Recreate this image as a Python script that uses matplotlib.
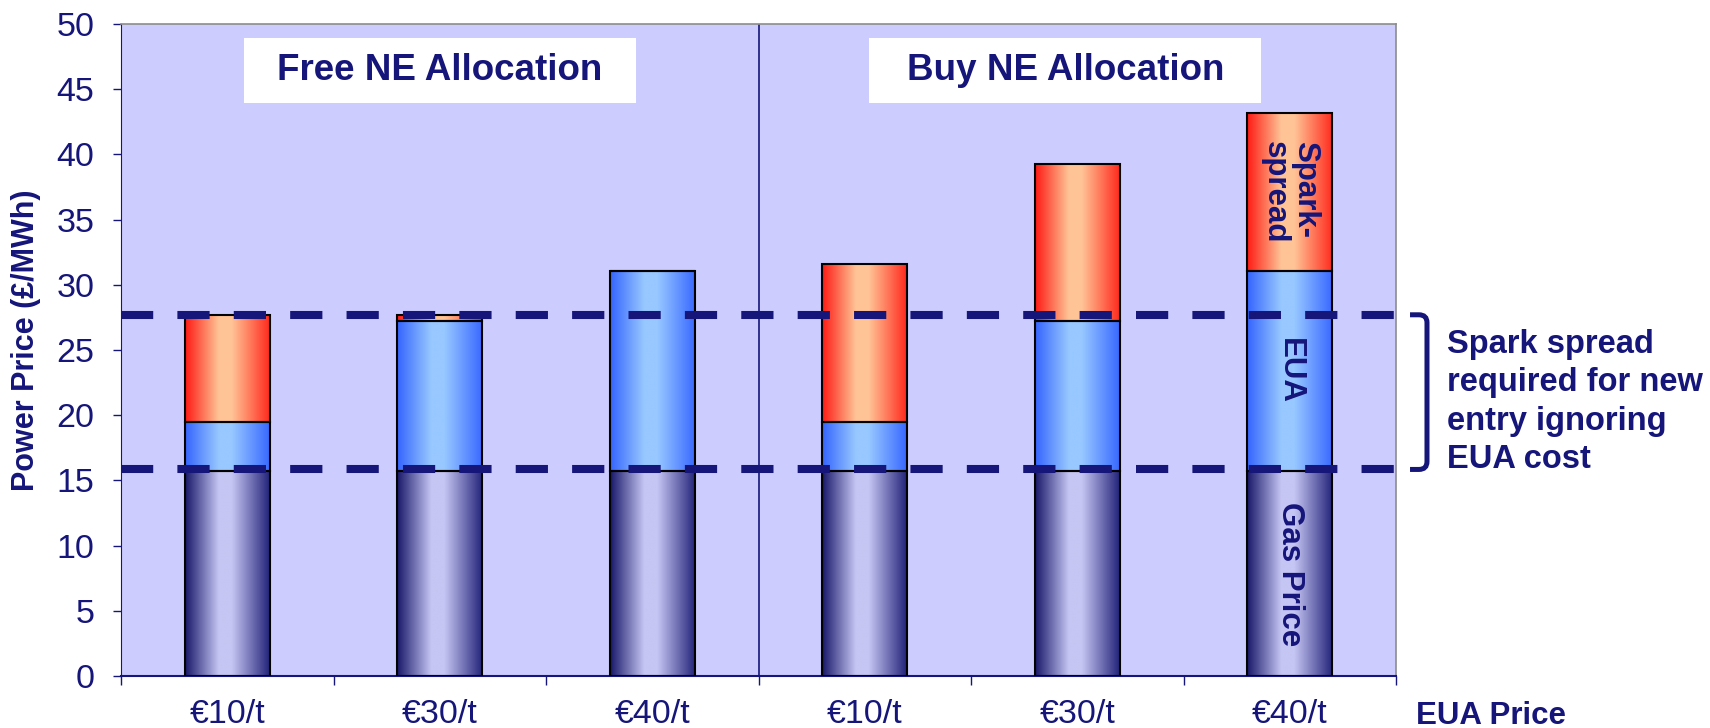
"""
Power price build-up: free vs. purchased new entrant (NE) allocation.

Stacked bars (gas, EUA, spark spread) with cylinder-style gradient fills.
"""
import matplotlib
matplotlib.use('Agg')
import matplotlib.pyplot as plt
import numpy as np
from matplotlib.colors import LinearSegmentedColormap
from matplotlib.patches import Rectangle, PathPatch
from matplotlib.path import Path
from matplotlib.transforms import blended_transform_factory

# --- data -------------------------------------------------------------
eua_labels = ['€10/t', '€30/t', '€40/t', '€10/t', '€30/t', '€40/t']
gas_price = [15.7, 15.7, 15.7, 15.7, 15.7, 15.7]
eua_cost = [3.8, 11.55, 15.35, 3.8, 11.55, 15.35]
spark_spread = [8.15, 0.43, 0.0, 12.1, 12.0, 12.1]
group_titles = ['Free NE Allocation', 'Buy NE Allocation']
ref_levels = [15.84, 27.7]  # gas price / new entry price (dashed lines)

NAVY = '#15157a'
BACKGROUND = '#ccccff'

plt.rcParams['font.family'] = ['Liberation Sans', 'DejaVu Sans']


def gradient_cmap(edge, mid, edge_right=None):
    """Horizontal 'cylinder' shading: dark edges, light band left of centre."""
    edge_right = edge_right or edge
    return LinearSegmentedColormap.from_list(
        '', [(0.0, edge), (0.40, mid), (0.55, mid), (1.0, edge_right)])


gas_cmap = gradient_cmap('#17176a', '#c6c6f4', '#23237a')
eua_cmap = gradient_cmap('#3464ff', '#98c8ff', '#3868ff')
spark_cmap = gradient_cmap('#ff1a14', '#ffc496', '#ff2a1e')
grad = np.linspace(0, 1, 256).reshape(1, -1)

fig = plt.figure(figsize=(17.1, 7.28), dpi=100)
ax = fig.add_axes([121 / 1710, 52 / 728, 1275 / 1710, 652 / 728])
ax.set_facecolor(BACKGROUND)

x = np.arange(len(eua_labels))
bottoms = np.zeros(len(x))
segments = [(gas_price, gas_cmap), (eua_cost, eua_cmap), (spark_spread, spark_cmap)]
for values, cmap in segments:
    bars = ax.bar(x, values, width=0.4, bottom=bottoms, facecolor='none',
                  edgecolor='black', linewidth=1.5, zorder=3)
    for bar in bars:
        if bar.get_height() <= 0:
            continue
        x0, y0 = bar.get_x(), bar.get_y()
        ax.imshow(grad, extent=[x0, x0 + bar.get_width(), y0, y0 + bar.get_height()],
                  cmap=cmap, aspect='auto', interpolation='bilinear', zorder=2)
    bottoms += np.array(values)

ax.set_xlim(-0.5, len(x) - 0.5)
ax.set_ylim(0, 50)

# dashed reference lines
for level in ref_levels:
    ax.axhline(level, color=NAVY, linewidth=5.8, linestyle=(0, (4.0, 3.0)),
               zorder=4)

# divider between the two allocation cases
ax.axvline(len(x) / 2 - 0.5, color=NAVY, linewidth=1.2, zorder=1)

# axes styling
ax.spines['left'].set_color(NAVY)
ax.spines['bottom'].set_color(NAVY)
ax.spines['bottom'].set_linewidth(1.5)
for side in ['top', 'right']:
    ax.spines[side].set_color('#8c8c8c')
    ax.spines[side].set_linewidth(1.2)

ax.set_yticks(range(0, 51, 5))
ax.set_xticks(x)
ax.set_xticklabels(eua_labels)
ax.set_xticks(np.arange(-0.5, len(x), 1), minor=True)
ax.tick_params(axis='x', which='major', length=0, pad=16.5,
               labelsize=24.5, labelcolor=NAVY)
ax.tick_params(axis='x', which='minor', length=6.5, width=1, color=NAVY)
ax.tick_params(axis='y', length=5.8, width=1, color=NAVY, pad=13.5,
               labelsize=24.5, labelcolor=NAVY)

ax.set_ylabel('Power Price (£/MWh)', fontsize=22, fontweight='bold', color=NAVY)
ax.yaxis.set_label_coords(-0.063, 0.515)

# group title boxes
for i, title in enumerate(group_titles):
    left = 0.0965 + i * 0.4905
    ax.add_patch(Rectangle((left, 0.879), 0.3075, 0.0995, transform=ax.transAxes,
                           facecolor='white', edgecolor='none', zorder=5))
    ax.text(left + 0.3075 / 2, 0.9287, title, transform=ax.transAxes,
            ha='center', va='center', fontsize=26.5, fontweight='bold',
            color=NAVY, zorder=6)

# segment labels on the last bar
label_kw = dict(rotation=-90, ha='center', va='center', fontsize=22.5,
                fontweight='bold', color=NAVY, zorder=6)
last = len(x) - 1
ax.text(last, gas_price[last] / 2, 'Gas Price', **label_kw)
ax.text(last, gas_price[last] + eua_cost[last] / 2, 'EUA', **label_kw)
ax.text(last, gas_price[last] + eua_cost[last] + spark_spread[last] / 2,
        'Spark-\nspread', multialignment='left', linespacing=1.0, **label_kw)

# bracket for the spark spread band
trans = blended_transform_factory(ax.transAxes, ax.transData)
lo, hi = ref_levels
verts = [(1.011, hi), (1.018, hi), (1.0243, hi), (1.0243, hi - 0.6),
         (1.0243, lo + 0.6), (1.0243, lo), (1.018, lo), (1.011, lo)]
codes = [Path.MOVETO, Path.LINETO, Path.CURVE3, Path.CURVE3,
         Path.LINETO, Path.CURVE3, Path.CURVE3, Path.LINETO]
ax.add_patch(PathPatch(Path(verts, codes), transform=trans, facecolor='none',
                       edgecolor=NAVY, linewidth=3.6, clip_on=False))

ax.text(1.0398, 0.532, 'Spark spread\nrequired for new\nentry ignoring\nEUA cost',
        transform=ax.transAxes, ha='left', va='top', fontsize=23.5,
        fontweight='bold', color=NAVY, linespacing=1.3)

ax.text(1.0157, -0.0736, 'EUA Price', transform=ax.transAxes, ha='left',
        va='baseline', fontsize=22.5, fontweight='bold', color=NAVY)

fig.savefig('out.png', dpi=100)
plt.close(fig)
